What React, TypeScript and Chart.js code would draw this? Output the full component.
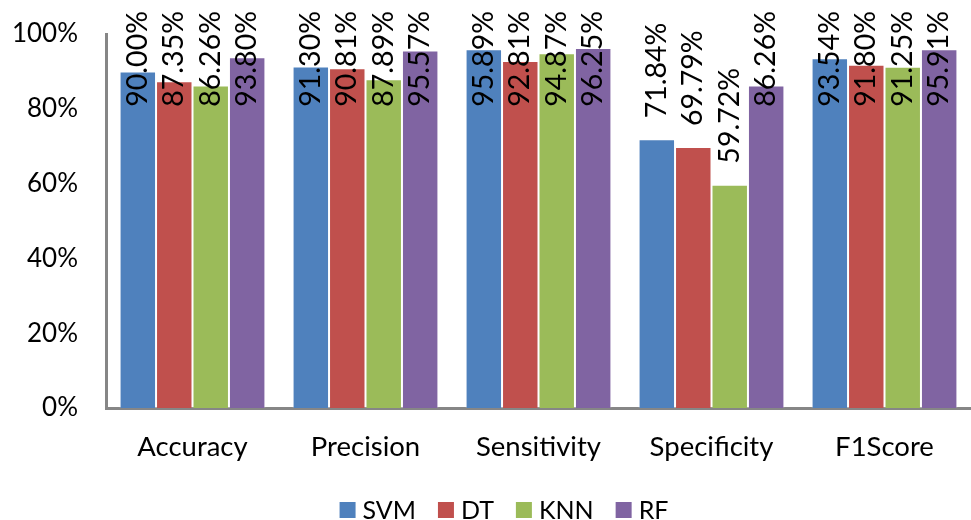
import React, { useEffect, useRef } from "react";
import { Chart, registerables } from "chart.js";

Chart.register(...registerables);

const categories = ["Accuracy", "Precision", "Sensitivity", "Specificity", "F1Score"];
const seriesNames = ["SVM", "DT", "KNN", "RF"];
const svmValues = [90.0, 91.3, 95.89, 71.84, 93.54];
const dtValues = [87.35, 90.81, 92.81, 69.79, 91.8];
const knnValues = [86.26, 87.89, 94.87, 59.72, 91.25];
const rfValues = [93.8, 95.57, 96.25, 86.26, 95.91];
const seriesColors = ["#4F81BD", "#C0504D", "#9BBB59", "#8064A2"];
const yTicks = [0, 20, 40, 60, 80, 100];

const FONT = "Lato";

const labelPlugin = {
  id: "rotLabels",
  afterDatasetsDraw(chart: any) {
    const ctx = chart.ctx;
    ctx.save();
    ctx.font = `28.5px ${FONT}`;
    ctx.fillStyle = "#000";
    ctx.textAlign = "left";
    ctx.textBaseline = "middle";
    chart.data.datasets.forEach((ds: any, di: number) => {
      const meta = chart.getDatasetMeta(di);
      meta.data.forEach((el: any, i: number) => {
        const v = ds.data[i];
        const text = v.toFixed(2) + "%";
        const w = ctx.measureText(text).width;
        let bottom = el.y - 21;
        if (bottom - w < 11) bottom = 11 + w;
        ctx.save();
        ctx.translate(el.x, bottom);
        ctx.rotate(-Math.PI / 2);
        ctx.fillText(text, 0, 0);
        ctx.restore();
      });
    });
    ctx.restore();
  },
};

const legendPlugin = {
  id: "customLegend",
  afterDraw(chart: any) {
    const ctx = chart.ctx;
    const box = 16;
    const gapText = 7;
    const gapItem = 22;
    ctx.save();
    ctx.font = `25px ${FONT}`;
    ctx.textBaseline = "middle";
    ctx.textAlign = "left";
    const items = chart.data.datasets.map((ds: any) => ({
      label: ds.label,
      color: ds.backgroundColor,
      w: ctx.measureText(ds.label).width,
    }));
    const total =
      items.reduce((a: number, it: any) => a + box + gapText + it.w, 0) + gapItem * (items.length - 1);
    let x = 504 - total / 2;
    const cy = 510;
    items.forEach((it: any) => {
      ctx.fillStyle = it.color;
      ctx.fillRect(x, cy - box / 2, box, box);
      ctx.fillStyle = "#000";
      ctx.fillText(it.label, x + box + gapText, cy + 1);
      x += box + gapText + it.w + gapItem;
    });
    ctx.restore();
  },
};

export default function App() {
  const ref = useRef<HTMLCanvasElement>(null);
  useEffect(() => {
    const values = [svmValues, dtValues, knnValues, rfValues];
    const chart = new Chart(ref.current!, {
      type: "bar",
      data: {
        labels: categories,
        datasets: seriesNames.map((n, i) => ({
          label: n,
          data: values[i],
          backgroundColor: seriesColors[i],
          borderColor: "rgba(255,255,255,0.35)",
          borderWidth: 1,
          categoryPercentage: 0.843,
          barPercentage: 1,
        })),
      },
      options: {
        responsive: false,
        animation: false,
        layout: { padding: { top: 34, left: 0, right: 0, bottom: 0 } },
        plugins: {
          tooltip: { enabled: false },
          legend: { display: false },
        },
        scales: {
          x: {
            grid: { display: false, drawTicks: false },
            border: { display: true, color: "#868686", width: 3 },
            ticks: { color: "#000", font: { family: FONT, size: 27.5 }, padding: 23 },
            afterFit: (s: any) => {
              s.height = 112;
            },
          },
          y: {
            min: 0,
            max: 100,
            afterBuildTicks: (s: any) => {
              s.ticks = yTicks.map((v) => ({ value: v }));
            },
            grid: { display: false, drawTicks: false },
            border: { display: true, color: "#868686", width: 3 },
            ticks: {
              color: "#000",
              font: { family: FONT, size: 26, lineHeight: 0.4 },
              padding: 28,
              callback: (v: any) => v + "%",
            },
            afterFit: (s: any) => {
              s.width = 106;
            },
          },
        },
      },
      plugins: [labelPlugin, legendPlugin],
    });
    return () => chart.destroy();
  }, []);
  return (
    <div style={{ position: "absolute", left: 0, top: 0, width: 971, height: 520, background: "#fff" }}>
      <canvas ref={ref} width={971} height={520} />
    </div>
  );
}
